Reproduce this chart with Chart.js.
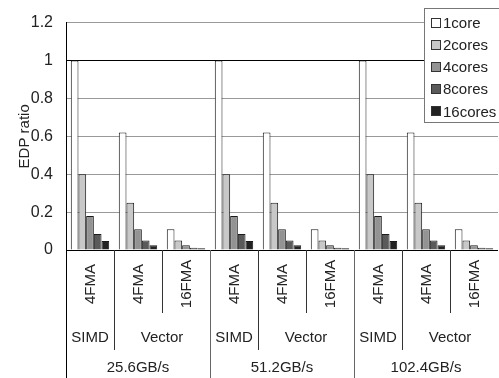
<!DOCTYPE html>
<html>
<head>
<meta charset="utf-8">
<script src="https://cdn.jsdelivr.net/npm/chart.js@4/dist/chart.umd.min.js"></script>
<style>
  html, body { margin: 0; padding: 0; background: #fff; }
</style>
</head>
<body>
<canvas id="myChart" width="499" height="378"></canvas>
<script>
// categories (three label levels)
const fmaLabels = ['4FMA', '4FMA', '16FMA', '4FMA', '4FMA', '16FMA', '4FMA', '4FMA', '16FMA'];
const unitLabels = ['SIMD', 'Vector', 'Vector', 'SIMD', 'Vector', 'Vector', 'SIMD', 'Vector', 'Vector'];
const bwLabels = ['25.6GB/s', '25.6GB/s', '25.6GB/s', '51.2GB/s', '51.2GB/s', '51.2GB/s', '102.4GB/s', '102.4GB/s', '102.4GB/s'];

// series
const seriesNames = ['1core', '2cores', '4cores', '8cores', '16cores'];
const core1   = [1.00, 0.62, 0.11, 1.00, 0.62, 0.11, 1.00, 0.62, 0.11];
const cores2  = [0.40, 0.25, 0.05, 0.40, 0.25, 0.05, 0.40, 0.25, 0.05];
const cores4  = [0.18, 0.11, 0.025, 0.18, 0.11, 0.025, 0.18, 0.11, 0.025];
const cores8  = [0.085, 0.05, 0.012, 0.085, 0.05, 0.012, 0.085, 0.05, 0.012];
const cores16 = [0.047, 0.025, 0.009, 0.047, 0.025, 0.009, 0.047, 0.025, 0.009];

const yTicks = [0, 0.2, 0.4, 0.6, 0.8, 1, 1.2];

const fills = ['#ffffff', '#c8c8c8', '#939393', '#5a5a5a', '#222222'];
const FONT = 'Liberation Sans, Arial, Helvetica, sans-serif';

const allValues = [core1, cores2, cores4, cores8, cores16];
const datasets = seriesNames.map((name, i) => ({
    label: name,
    data: allValues[i],
    backgroundColor: fills[i],
    borderColor: '#1a1a1a',
    borderWidth: 1,
    barPercentage: 1.0,
    categoryPercentage: 0.8
}));

// hierarchical labels under the plot
const xLabelsPlugin = {
    id: 'xLabels',
    afterDraw(chart) {
        const ctx = chart.ctx;
        const x = chart.scales.x;
        const area = chart.chartArea;
        const n = fmaLabels.length;
        const w = x.getPixelForValue(1) - x.getPixelForValue(0);
        const edge = i => Math.round(x.getPixelForValue(i) - w / 2) + 0.5;

        ctx.save();
        ctx.lineWidth = 1;
        for (let i = 0; i < n; i++) {
            let bottom;
            let color = '#333';
            if (i === 0) { bottom = chart.height; color = '#000'; }
            else if (bwLabels[i] !== bwLabels[i - 1]) { bottom = chart.height; color = '#666'; }
            else if (unitLabels[i] !== unitLabels[i - 1]) bottom = area.bottom + 100;
            else bottom = area.bottom + 63;
            ctx.strokeStyle = color;
            ctx.beginPath();
            ctx.moveTo(edge(i), area.bottom);
            ctx.lineTo(edge(i), bottom);
            ctx.stroke();
        }

        ctx.fillStyle = '#222';
        ctx.font = '15px ' + FONT;
        ctx.textAlign = 'center';
        ctx.textBaseline = 'middle';

        // level 1, rotated
        fmaLabels.forEach((lab, i) => {
            ctx.save();
            ctx.translate(x.getPixelForValue(i), area.bottom + 34);
            ctx.rotate(-Math.PI / 2);
            ctx.fillText(lab, 0, 1);
            ctx.restore();
        });

        // levels 2 and 3
        const spans = (keyFn) => {
            const out = [];
            let start = 0;
            for (let i = 1; i <= n; i++) {
                if (i === n || keyFn(i) !== keyFn(start)) {
                    out.push([start, i - 1]);
                    start = i;
                }
            }
            return out;
        };
        spans(i => bwLabels[i] + unitLabels[i]).forEach(([a, b]) => {
            const cx = (x.getPixelForValue(a) + x.getPixelForValue(b)) / 2;
            ctx.fillText(unitLabels[a], cx, area.bottom + 88);
        });
        spans(i => bwLabels[i]).forEach(([a, b]) => {
            const cx = (x.getPixelForValue(a) + x.getPixelForValue(b)) / 2;
            ctx.fillText(bwLabels[a], cx, area.bottom + 118);
        });
        ctx.restore();
    }
};

// legend box inside the plot, top right
const legendPlugin = {
    id: 'boxLegend',
    afterDraw(chart) {
        const ctx = chart.ctx;
        const left = 424.5, top = 8.5, right = chart.width + 2, bottom = 122.5;
        ctx.save();
        ctx.fillStyle = '#fff';
        ctx.fillRect(left, top, right - left, bottom - top);
        ctx.strokeStyle = '#777';
        ctx.lineWidth = 1;
        ctx.strokeRect(left, top, right - left, bottom - top);
        ctx.font = '15px ' + FONT;
        ctx.textBaseline = 'middle';
        ctx.textAlign = 'left';
        chart.data.datasets.forEach((ds, i) => {
            const cy = 23 + i * 22.1;
            ctx.fillStyle = ds.backgroundColor;
            ctx.fillRect(431, Math.round(cy - 5), 10, 10);
            ctx.strokeStyle = '#333';
            ctx.strokeRect(431.5, Math.round(cy - 5) + 0.5, 9, 9);
            ctx.fillStyle = '#222';
            ctx.fillText(ds.label, 443, cy + 1);
        });
        ctx.restore();
    }
};

const ctx = document.getElementById('myChart').getContext('2d');
new Chart(ctx, {
    type: 'bar',
    data: { labels: fmaLabels, datasets: datasets },
    plugins: [xLabelsPlugin, legendPlugin],
    options: {
        responsive: false,
        animation: false,
        layout: { padding: { top: 12, right: 1, bottom: 128, left: 0 } },
        plugins: {
            legend: { display: false },
            tooltip: { enabled: false }
        },
        scales: {
            x: {
                display: false
            },
            y: {
                min: 0,
                max: 1.2,
                afterFit: function(scale) { scale.width = 66; },
                afterBuildTicks: function(scale) {
                    scale.ticks = yTicks.map(v => ({ value: v }));
                },
                ticks: {
                    padding: 13,
                    color: '#222',
                    font: { family: FONT, size: 16 },
                    callback: v => String(v)
                },
                grid: {
                    drawTicks: false,
                    color: c => (c.tick && (c.tick.value === 1 || c.tick.value === 0)) ? '#000' : '#999'
                },
                border: { display: true, color: '#000' },
                title: {
                    display: true,
                    text: 'EDP ratio',
                    color: '#222',
                    font: { family: FONT, size: 15 },
                    padding: { top: 16, bottom: 0 }
                }
            }
        }
    }
});
</script>
</body>
</html>
